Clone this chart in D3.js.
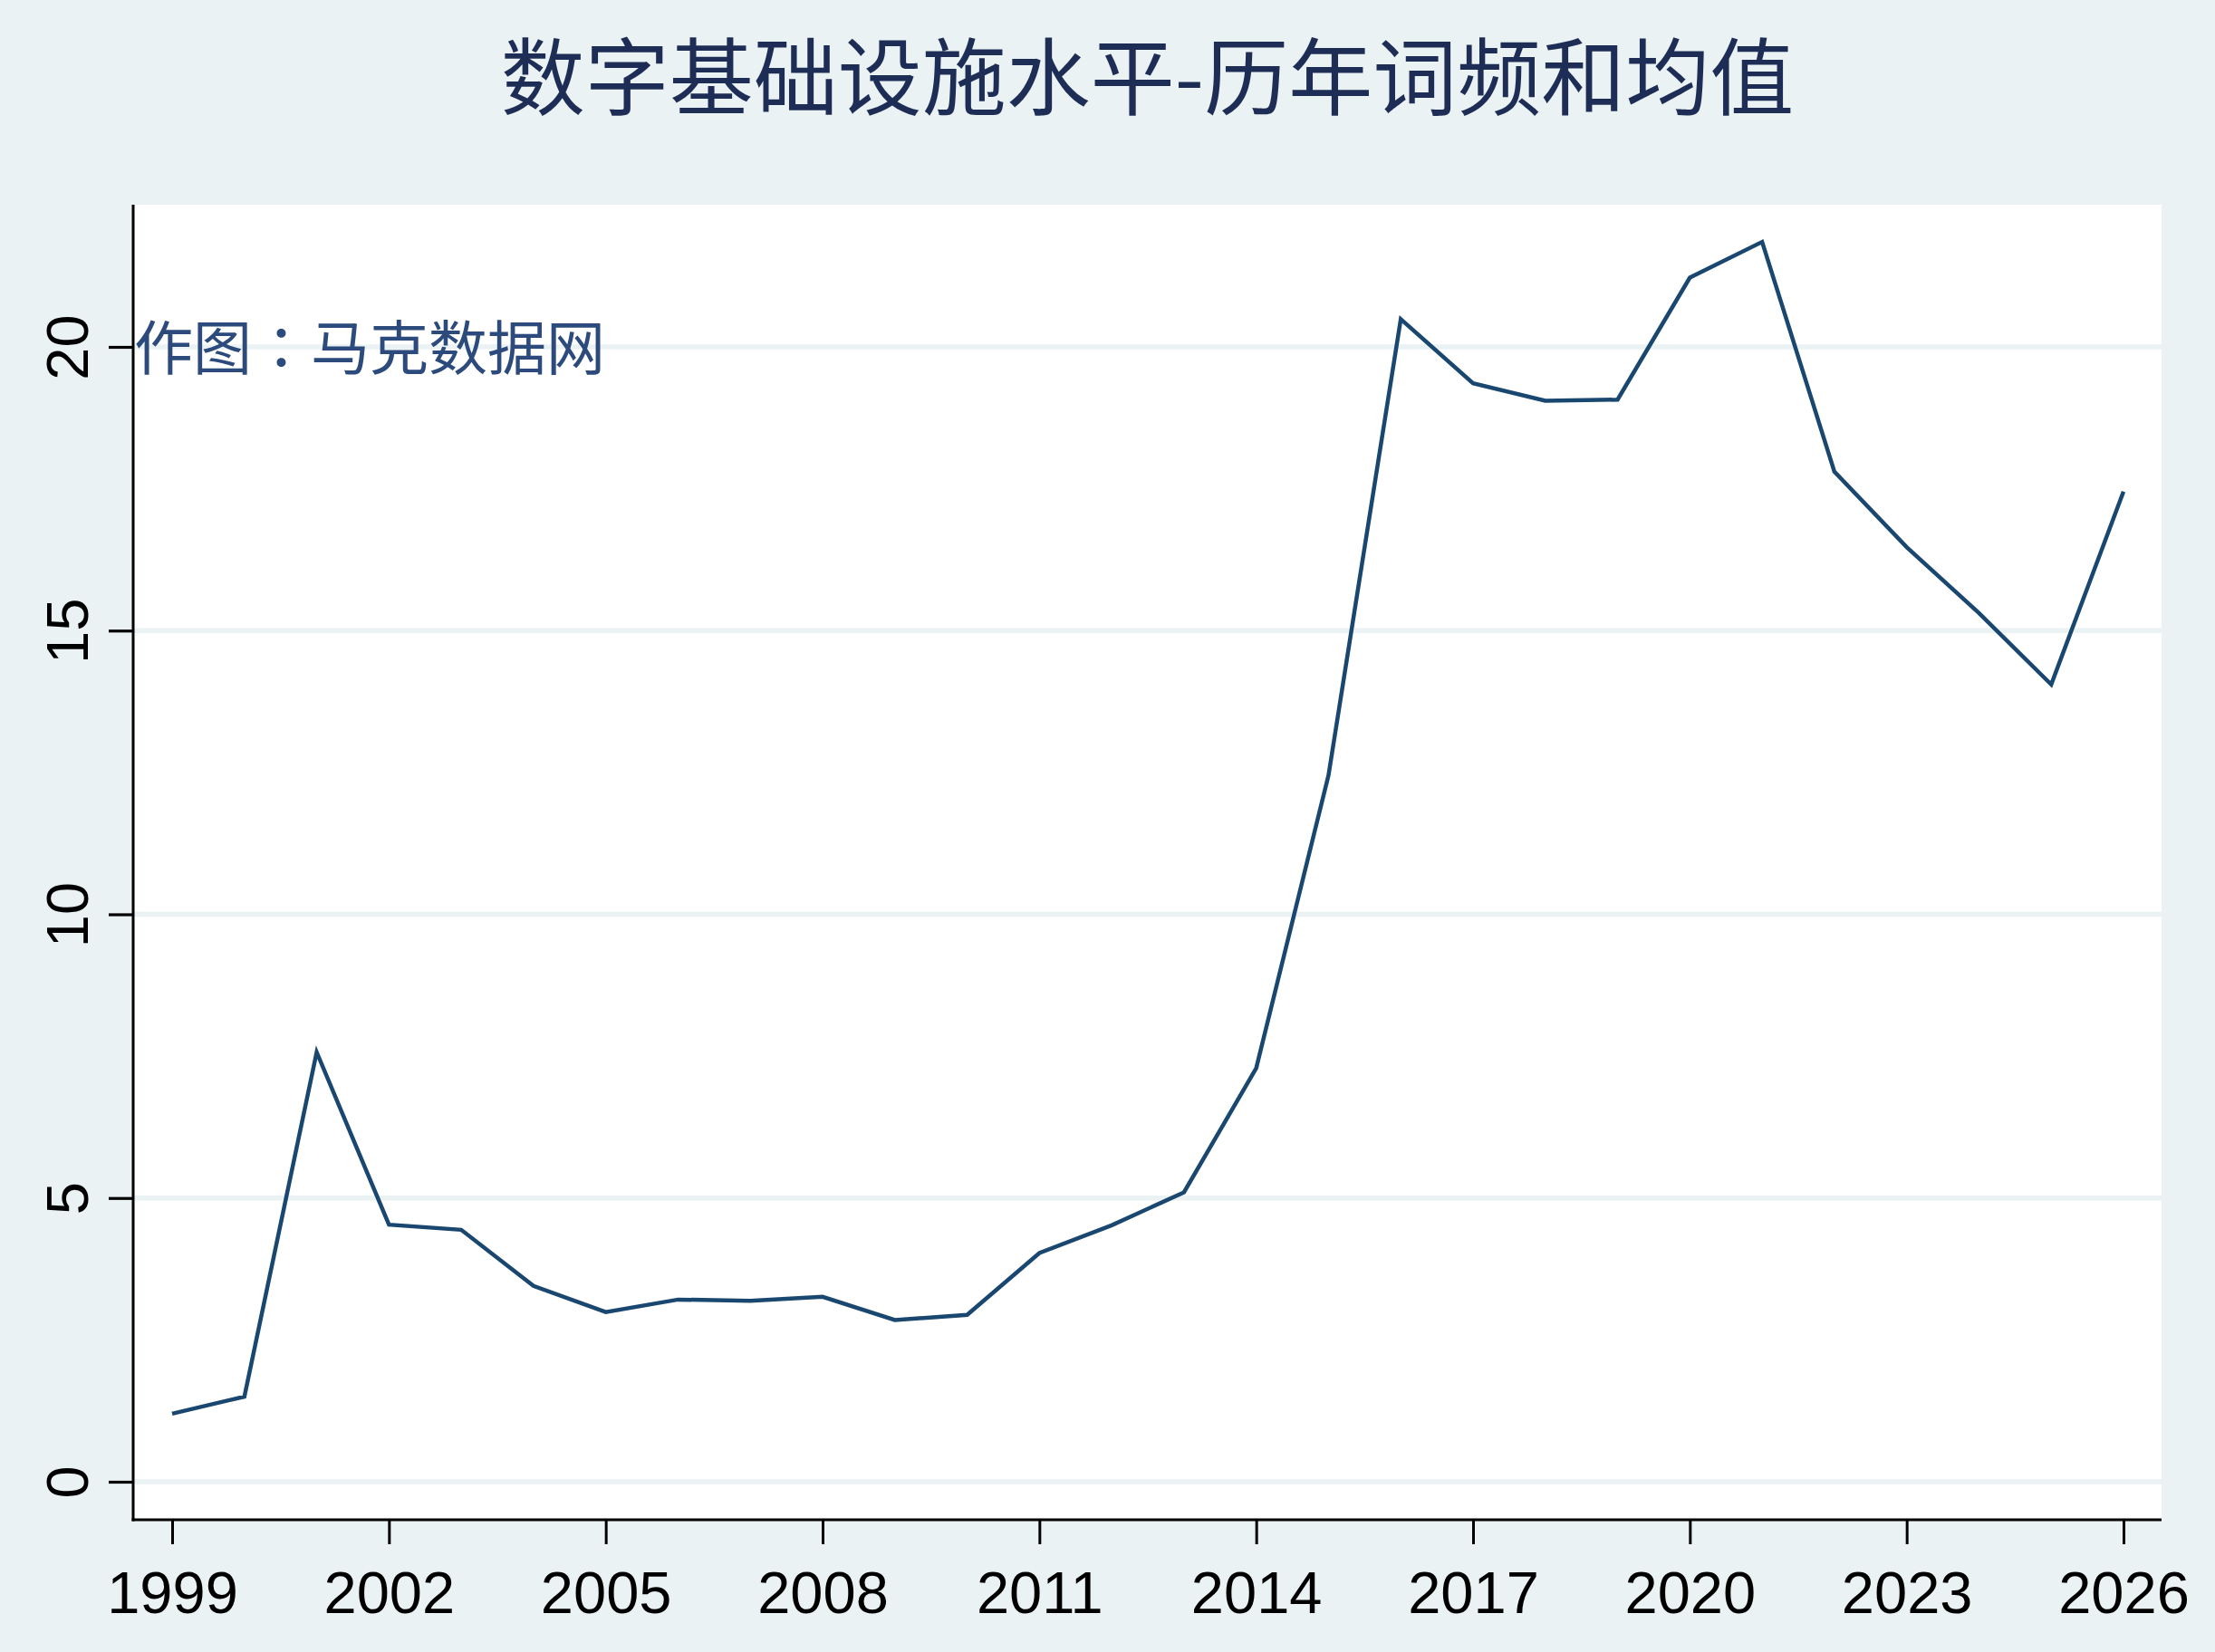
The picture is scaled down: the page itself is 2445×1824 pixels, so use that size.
<!DOCTYPE html>
<html>
<head>
<meta charset="utf-8">
<script src="https://cdn.jsdelivr.net/npm/d3@7"></script>
<style>
  html, body { margin: 0; padding: 0; background: #eaf2f3; }
  svg { display: block; }
</style>
</head>
<body>
<script>
const years = [1999,2000,2001,2002,2003,2004,2005,2006,2007,2008,2009,2010,2011,2012,2013,2014,2015,2016,2017,2018,2019,2020,2021,2022,2023,2024,2025,2026];
const values = [1.20,1.50,7.57,4.53,4.44,3.45,2.99,3.21,3.19,3.26,2.85,2.94,4.03,4.52,5.10,7.29,12.45,20.49,19.36,19.05,19.07,21.22,21.85,17.80,16.47,15.31,14.05,17.45];
const xTickValues = [1999,2002,2005,2008,2011,2014,2017,2020,2023,2026];
const yTickValues = [0,5,10,15,20];
const titleText = "数字基础设施水平-历年词频和均值";
const watermarkParts = ["作图", "：", "马克数据网"];

const W = 2445, H = 1824;
const plot = { left: 147, right: 2386, top: 226, bottom: 1678 };

const svg = d3.select("body").append("svg")
  .attr("width", W).attr("height", H)
  .attr("viewBox", `0 0 ${W} ${H}`);

svg.append("rect").attr("x", 0).attr("y", 0).attr("width", W).attr("height", H).attr("fill", "#eaf2f3");

const x = d3.scaleLinear().domain([1999, 2026]).range([190, 2344]);
const y = d3.scaleLinear().domain([0, 20]).range([1636, 383]);

// plot region
svg.append("rect")
  .attr("x", plot.left).attr("y", plot.top)
  .attr("width", plot.right - plot.left).attr("height", plot.bottom - plot.top)
  .attr("fill", "#ffffff");

// gridlines
svg.append("g").selectAll("line").data(yTickValues).join("line")
  .attr("x1", plot.left).attr("x2", plot.right)
  .attr("y1", d => y(d)).attr("y2", d => y(d))
  .attr("stroke", "#eaf2f3").attr("stroke-width", 5.5);

// line
const line = d3.line().x((d, i) => x(years[i])).y(d => y(d));
svg.append("path")
  .datum(values)
  .attr("d", line)
  .attr("fill", "none")
  .attr("stroke", "#1a476f")
  .attr("stroke-width", 4.5)
  .attr("stroke-linejoin", "miter");

// y axis
const yAxis = d3.axisLeft(y).tickValues(yTickValues).tickSize(27).tickPadding(0).tickFormat(d3.format("d"));
const gy = svg.append("g").attr("transform", `translate(${plot.left},0)`).call(yAxis);
gy.select(".domain").remove();
gy.selectAll(".tick line").attr("stroke", "#000").attr("stroke-width", 3.2);
gy.selectAll(".tick text")
  .attr("x", null).attr("dy", null)
  .attr("text-anchor", "middle")
  .attr("transform", "translate(-50,0) rotate(-90)")
  .attr("fill", "#000")
  .style("font-family", "'Liberation Sans', Arial, sans-serif")
  .style("font-size", "65px");

// x axis
const xAxis = d3.axisBottom(x).tickValues(xTickValues).tickSize(27).tickPadding(0).tickFormat(d3.format("d"));
const gx = svg.append("g").attr("transform", `translate(0,${plot.bottom})`).call(xAxis);
gx.select(".domain").remove();
gx.selectAll(".tick line").attr("stroke", "#000").attr("stroke-width", 3);
gx.selectAll(".tick text")
  .attr("y", 103).attr("dy", null)
  .attr("fill", "#000")
  .style("font-family", "'Liberation Sans', Arial, sans-serif")
  .style("font-size", "65px");

// axis lines
svg.append("line").attr("x1", plot.left).attr("x2", plot.left)
  .attr("y1", plot.top).attr("y2", plot.bottom + 1.5)
  .attr("stroke", "#000").attr("stroke-width", 3);
svg.append("line").attr("x1", plot.left - 1.5).attr("x2", plot.right)
  .attr("y1", plot.bottom).attr("y2", plot.bottom)
  .attr("stroke", "#000").attr("stroke-width", 3);

// watermark
const wm = svg.append("text")
  .attr("x", 148).attr("y", 408)
  .attr("fill", "#2c4a7c")
  .style("font-family", "'Noto Sans CJK SC', sans-serif")
  .style("font-size", "65px");
wm.append("tspan").text(watermarkParts[0]);
wm.append("tspan").style("font-family", "'Noto Sans CJK JP', sans-serif").text(watermarkParts[1]);
wm.append("tspan").text(watermarkParts[2]);

// title
svg.append("text")
  .attr("x", (plot.left + plot.right) / 2).attr("y", 120)
  .attr("text-anchor", "middle")
  .attr("fill", "#1e2d55")
  .style("font-family", "'Noto Sans CJK SC', sans-serif")
  .style("font-size", "93px")
  .text(titleText);
</script>
</body>
</html>
